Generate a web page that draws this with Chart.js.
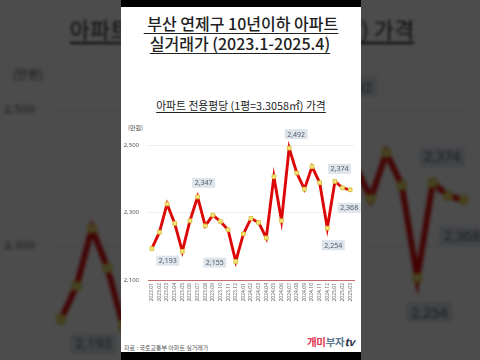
<!DOCTYPE html>
<html>
<head>
<meta charset="utf-8">
<script src="https://cdn.jsdelivr.net/npm/chart.js@4"></script>
<style>
  html, body { margin:0; padding:0; }
  body { width:480px; height:360px; overflow:hidden; background:#4c4c4c; position:relative;
         font-family:"Noto Sans CJK KR","Noto Sans",sans-serif; }
  .panel { position:absolute; left:121px; top:7px; width:240px; height:345px; background:#fff; overflow:hidden; }
  .bg { transform:scale(2.03); transform-origin:119px 173px; filter:brightness(0.3) blur(0.7px); }
  .t1, .t2 { position:absolute; left:0; width:240px; text-align:center; white-space:pre; font-size:16px; line-height:20px; color:#222;
             font-weight:500; text-decoration:underline; text-decoration-thickness:1px; text-underline-offset:3px; }
  .t1 { top:6px; }
  .t2 { top:26px; left:-1px; }
  .sub { position:absolute; left:0; top:91px; width:240px; text-align:center; font-size:10.8px; line-height:14px; color:#222;
         text-decoration:underline; text-decoration-thickness:1px; text-underline-offset:2px; }
  .unit { position:absolute; left:7px; top:116px; font-size:6px; color:#444; }
  .src { position:absolute; left:3px; top:336px; font-size:6px; color:#555; }
  .logo { position:absolute; left:186px; top:327px; font-size:10.5px; font-weight:700; letter-spacing:-0.3px; }
  .logo .a { color:#e0344e; } .logo .b { color:#5b7690; } .logo .c { color:#1e2a44; font-style:italic; }
  canvas { position:absolute; left:0; top:113px; }
  .bar { position:absolute; left:121px; width:240px; background:#000; }
</style>
</head>
<body>
<div class="panel bg" id="bgPanel"></div>
<div class="panel" id="fgPanel"></div>
<div class="bar" style="top:0;height:7px"></div>
<div class="bar" style="top:352px;height:8px"></div>
<script>
// ---- data ----
const categories = ['2023.01','2023.02','2023.03','2023.04','2023.05','2023.06','2023.07','2023.08','2023.09',
  '2023.10','2023.11','2023.12','2024.01','2024.02','2024.03','2024.04','2024.05','2024.06','2024.07',
  '2024.08','2024.09','2024.10','2024.11','2024.12','2025.01','2025.02','2025.03'];
const prices = [2193,2242,2326,2268,2185,2276,2347,2261,2293,2274,2249,2155,2237,2283,2271,2225,
  2407,2276,2492,2418,2370,2437,2389,2254,2393,2374,2368];
const labeledIdx = [0,6,11,18,23,25,26];
const yTicks = [2100,2300,2500];

// ---- styling for callouts (offsets from point) ----
const calloutOffset = {0:[16,12],6:[6,-14],11:[-21,1],18:[7,-14],23:[6,17],25:[-3,-19],26:[-1,18]};

const fmt = v => Number(v).toLocaleString('en-US');

const calloutPlugin = {
  id:'callouts',
  afterDatasetsDraw(chart){
    const ctx = chart.ctx, meta = chart.getDatasetMeta(0);
    ctx.save();
    ctx.font = '7px "Noto Sans","DejaVu Sans",sans-serif';
    ctx.textAlign = 'center'; ctx.textBaseline = 'middle';
    labeledIdx.forEach(i => {
      const p = meta.data[i]; const o = calloutOffset[i] || [0,-14];
      const cx = p.x + o[0], cy = p.y + o[1];
      const txt = fmt(chart.data.datasets[0].data[i]);
      const w = ctx.measureText(txt).width + 5, h = 10;
      ctx.fillStyle = '#dde4ec';
      ctx.fillRect(cx - w/2, cy - h/2, w, h);
      ctx.fillStyle = '#505a64';
      ctx.fillText(txt, cx, cy + 0.5);
    });
    ctx.restore();
  }
};

function makeConfig(){
  return {
    type:'line',
    data:{ labels:categories, datasets:[{
      data:prices, borderColor:'#dc0808', borderWidth:2.9, tension:0,
      pointStyle:'rect', pointRadius:2.6, pointBackgroundColor:'#f4e58a', pointBorderColor:'#dcc43c', pointBorderWidth:1
    }]},
    options:{
      responsive:false, animation:false,
      layout:{ padding:{ left:0, right:7, top:0, bottom:0 } },
      plugins:{ legend:{display:false}, tooltip:{enabled:false}, title:{display:false} },
      scales:{
        x:{
          offset:true,
          grid:{ display:false, drawTicks:false },
          border:{ display:true, color:'#c86a6a', width:1 },
          ticks:{ autoSkip:false, minRotation:90, maxRotation:90, padding:3, color:'#666',
                  font:{ size:5, family:'"Noto Sans","DejaVu Sans",sans-serif' } },
          afterFit(s){ s.height = 30; }
        },
        y:{
          min:2100, max:2538,
          afterBuildTicks(s){ s.ticks = yTicks.map(v => ({value:v})); },
          grid:{ drawTicks:false, color:c => c.tick && c.tick.value === 2100 ? '#c86a6a' : '#efefef', lineWidth:1 },
          border:{ display:false },
          ticks:{ padding:9, color:'#555', callback:v => fmt(v),
                  font:{ size:6, family:'"Noto Sans","DejaVu Sans",sans-serif' } },
          afterFit(s){ s.width = 27; }
        }
      }
    },
    plugins:[calloutPlugin]
  };
}

function buildPanel(root){
  root.innerHTML =
    '<div class="t1"> 부산 연제구 10년이하 아파트</div>' +
    '<div class="t2">실거래가 (2023.1-2025.4)</div>' +
    '<div class="sub">아파트 전용평당 (1평=3.3058㎡) 가격</div>' +
    '<div class="unit">(만원)</div>' +
    '<canvas width="240" height="190" style="width:240px;height:190px"></canvas>' +
    '<div class="src">자료 : 국토교통부 아파트 실거래가</div>' +
    '<div class="logo"><span class="a">개미</span><span class="b">부자</span><span class="c">tv</span></div>';
  new Chart(root.querySelector('canvas'), makeConfig());
}

buildPanel(document.getElementById('bgPanel'));
buildPanel(document.getElementById('fgPanel'));
</script>
</body>
</html>
